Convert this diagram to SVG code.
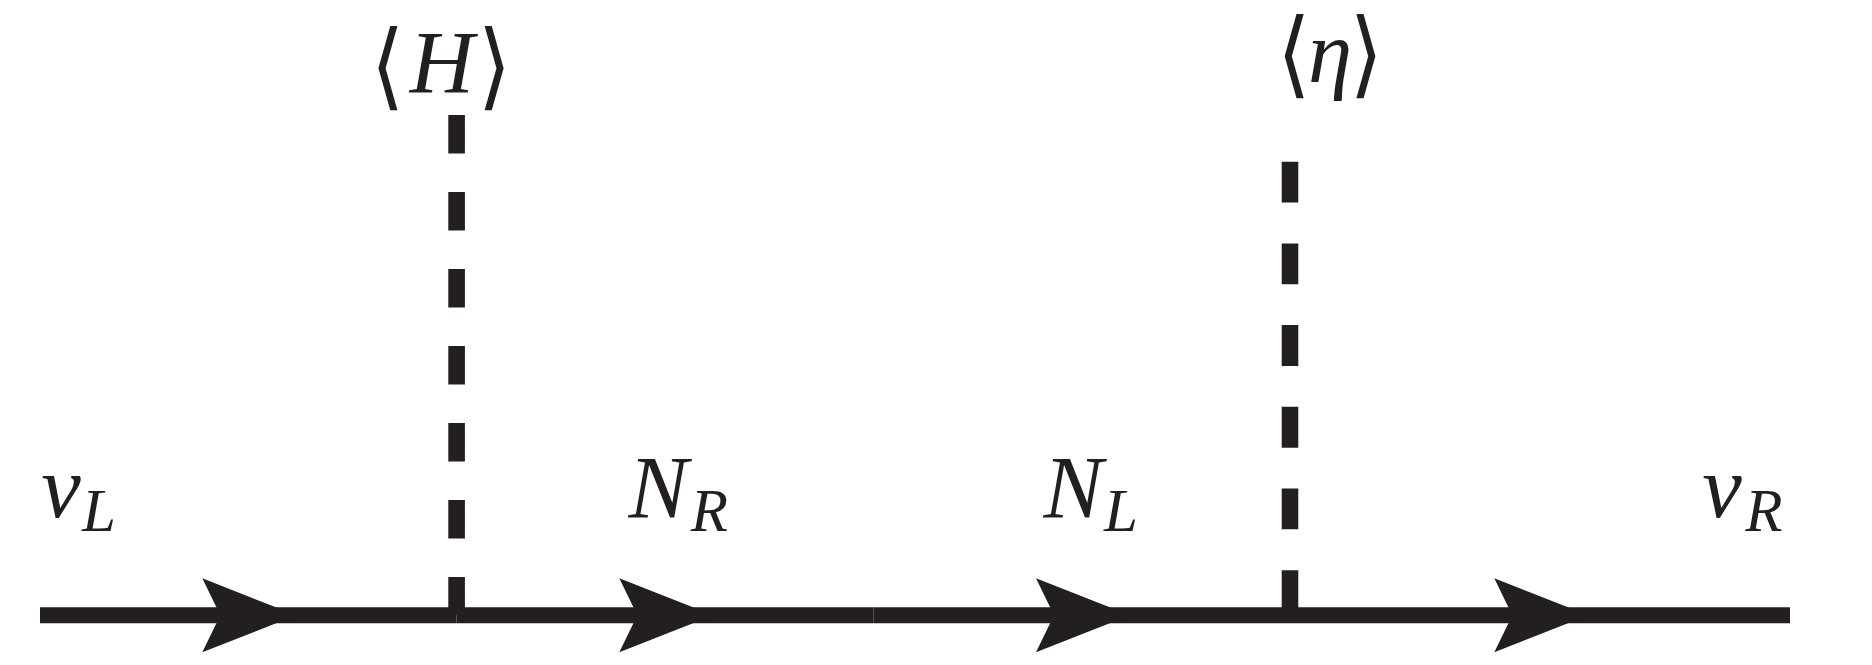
<svg xmlns="http://www.w3.org/2000/svg" width="1872" height="665" viewBox="0 0 1872 665">
<style>
.lbl{font-family:"Liberation Serif","DejaVu Serif",serif;font-style:italic;fill:#231f20;text-anchor:middle}
.big{font-size:89px}
.sub{font-size:61px}
.br{font-family:"DejaVu Sans","DejaVu Serif",sans-serif;font-weight:200;font-style:normal;font-size:86px;fill:#231f20;text-anchor:middle}
.fer{stroke:#231f20;stroke-width:16;fill:none}
.sc1{stroke:#231f20;stroke-width:16.6;fill:none;stroke-dasharray:38.5 38.5}
.sc2{stroke:#231f20;stroke-width:16.6;fill:none;stroke-dasharray:40.85 40.85}
.arr{fill:#231f20}
</style>
<defs>
<path id="ah" d="M0,-37 L94,0 L0,37 L18,0 Z"/>
</defs>
<rect width="1872" height="665" fill="#ffffff"/>
<g id="connectors">
<line class="sc1" x1="456.6" y1="115" x2="456.6" y2="615"/>
<line class="sc2" x1="1290" y1="161.7" x2="1290" y2="615"/>
<line class="fer" x1="40" y1="615.3" x2="456.6" y2="615.3"/>
<line class="fer" x1="456.6" y1="615.3" x2="873.3" y2="615.3"/>
<line class="fer" x1="873.3" y1="615.3" x2="1290" y2="615.3"/>
<line class="fer" x1="1290" y1="615.3" x2="1790" y2="615.3"/>
<use href="#ah" class="arr" x="202.3" y="615.3"/>
<use href="#ah" class="arr" x="619.3" y="615.3"/>
<use href="#ah" class="arr" x="1036" y="615.3"/>
<use href="#ah" class="arr" x="1494.3" y="615.3"/>
</g>
<g id="node-H">
<text class="br" transform="translate(387.5,70.8) scale(1,1.1)" x="0" y="25">⟨</text>
<text class="lbl big" x="442" y="92.3">H</text>
<text class="br" transform="translate(494.5,70.8) scale(1,1.1)" x="0" y="25">⟩</text>
</g>
<g id="node-eta">
<text class="br" transform="translate(1293.8,58.7) scale(1,1.1)" x="0" y="25">⟨</text>
<text class="lbl big" x="1330" y="81.5">η</text>
<text class="br" transform="translate(1366.3,58.7) scale(1,1.1)" x="0" y="25">⟩</text>
</g>
<g id="node-nuL">
<text class="lbl"><tspan class="big" x="61" y="517">ν</tspan><tspan class="sub" x="99" y="530.5">L</tspan></text>
</g>
<g id="node-NR">
<text class="lbl"><tspan class="big" x="658.3" y="517.3">N</tspan><tspan class="sub" x="709.5" y="530.5">R</tspan></text>
</g>
<g id="node-NL">
<text class="lbl"><tspan class="big" x="1073.3" y="517.3">N</tspan><tspan class="sub" x="1121" y="530.5">L</tspan></text>
</g>
<g id="node-nuR">
<text class="lbl"><tspan class="big" x="1722" y="517">ν</tspan><tspan class="sub" x="1764" y="530.5">R</tspan></text>
</g>
</svg>
